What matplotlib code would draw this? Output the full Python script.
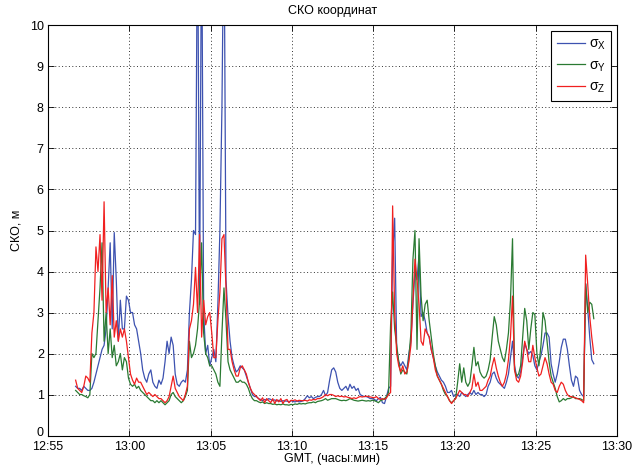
import numpy as np
import pandas as pd
import matplotlib
matplotlib.use('Agg')
import matplotlib.pyplot as plt
import matplotlib.dates as mdates

# sampling: one point every 7.5 s starting 12:56:42
start_time = '2000-01-01 12:56:42'
n_points = 256

# rows of 8 points = 1 minute each
sigma_x = [
    1.2, 1.15, 1.15, 1.1, 1.2, 1.15, 1.1, 1.1,
    1.15, 1.3, 1.5, 1.7, 1.9, 2.1, 2.2, 2.6,
    3.6, 4.7, 2.6, 4.95, 3.8, 2.3, 3.3, 2.6,
    2.6, 3.4, 3.3, 3.0, 3.0, 2.7, 2.6, 2.3,
    2.0, 1.6, 1.4, 1.3, 1.5, 1.6, 1.3, 1.2,
    1.15, 1.35, 1.25, 1.4, 1.8, 2.3, 2.0, 2.4,
    2.2, 1.5, 1.25, 1.2, 1.3, 1.35, 1.3, 1.6,
    3.0, 3.8, 5.0, 4.9, 13.0, 3.2, 13.0, 3.0,
    2.0, 2.2, 1.7, 1.9, 2.1, 1.8, 3.2, 5.0,
    8.0, 13.0, 3.8, 2.9, 2.3, 1.9, 1.7, 1.55,
    1.6, 1.7, 1.65, 1.6, 1.45, 1.3, 1.15, 1.0,
    0.95, 0.95, 0.9, 0.88, 0.85, 0.88, 0.86, 0.9,
    0.88, 0.85, 0.87, 0.84, 0.86, 0.83, 0.85, 0.84,
    0.84, 0.82, 0.85, 0.83, 0.82, 0.84, 0.82, 0.83,
    0.85, 0.9, 0.97, 0.92, 0.95, 0.9, 0.93, 0.95,
    0.95, 1.0, 1.1, 0.97, 1.05, 1.35, 1.6, 1.65,
    1.55, 1.3, 1.15, 1.1, 1.15, 1.2, 1.1, 1.25,
    1.15, 1.2, 1.1, 1.15, 1.0, 0.97, 0.95, 0.95,
    0.93, 0.9, 0.9, 0.88, 0.85, 0.9, 0.93, 0.8,
    0.78, 0.95, 1.15, 1.2, 4.4, 5.3, 2.1, 1.8,
    1.7, 1.8, 1.7, 1.6, 2.0, 2.3, 3.2, 4.0,
    3.8, 4.4, 2.9, 3.0, 2.8, 2.5, 2.4, 2.1,
    1.9, 1.7, 1.55, 1.45, 1.35, 1.3, 1.2, 1.05,
    1.05, 1.1, 0.95, 1.0, 1.0, 0.95, 1.05, 1.0,
    0.95, 1.0, 1.05, 1.0, 1.1, 1.0, 1.05, 1.0,
    1.0, 0.95, 1.0, 1.2, 1.3, 1.5, 1.55, 1.4,
    1.3, 1.25, 1.2, 1.15, 1.3, 1.5, 1.9, 2.3,
    1.7, 1.45, 1.4, 1.55, 1.9, 2.25, 2.1, 2.0,
    2.05, 1.95, 1.7, 1.6, 1.8, 1.95, 2.2, 2.5,
    2.5, 2.4, 1.75, 1.5, 1.3, 1.5, 1.8, 2.15,
    2.35, 2.35, 2.1, 1.7, 1.35, 1.2, 1.45, 1.4,
    1.1, 1.0, 0.95, 3.7, 3.1, 2.4, 1.85, 1.75,
]

sigma_y = [
    1.1, 1.05, 1.0, 1.0, 0.97, 0.95, 0.92, 1.0,
    2.0, 1.9, 2.0, 2.8, 3.6, 4.7, 2.3, 3.0,
    2.0, 2.6, 1.9, 2.2, 1.7, 1.8, 2.0, 1.6,
    1.9, 1.8, 1.4, 1.25, 1.2, 1.25, 1.15, 1.2,
    1.1, 1.05, 1.0, 0.95, 0.9, 0.85, 0.85, 0.8,
    0.85, 0.8, 0.85, 0.8, 0.75, 0.8, 0.85, 1.0,
    1.05, 0.95, 0.9, 0.85, 0.8, 0.85, 0.95, 1.1,
    2.3, 1.9, 2.0, 2.2, 2.6, 3.3, 4.7, 2.5,
    2.0, 1.9, 1.7, 1.7, 1.6, 1.5, 1.3, 1.2,
    2.5, 3.6, 2.8, 1.8, 1.6, 1.5, 1.4, 1.3,
    1.3, 1.35, 1.3, 1.3, 1.25, 1.15, 1.0, 0.9,
    0.85, 0.85, 0.82, 0.8, 0.82, 0.78, 0.8, 0.78,
    0.78, 0.76, 0.77, 0.75, 0.76, 0.75, 0.77, 0.75,
    0.75, 0.74, 0.76, 0.75, 0.77, 0.76, 0.78, 0.77,
    0.78, 0.77, 0.79, 0.8, 0.8, 0.82, 0.8, 0.83,
    0.84, 0.85, 0.87, 0.9, 0.86, 0.88, 0.9, 0.9,
    0.9, 0.88, 0.86, 0.85, 0.86, 0.85, 0.87, 0.9,
    0.88, 0.86, 0.85, 0.84, 0.85, 0.86, 0.85, 0.84,
    0.85, 0.84, 0.86, 0.85, 0.83, 0.8, 0.85, 0.87,
    0.9, 0.95, 1.05, 2.7, 3.5, 2.6, 2.2, 1.8,
    1.5, 1.6, 1.55, 1.5, 1.9, 2.5, 4.3, 5.0,
    2.1, 4.8, 3.4, 2.8, 3.2, 3.3, 2.8, 2.4,
    2.0, 1.7, 1.45, 1.35, 1.25, 1.1, 1.0, 0.95,
    0.85, 0.8, 0.85, 0.9, 1.3, 1.75, 1.3, 1.65,
    1.3, 1.2, 1.3, 1.7, 2.15, 1.7, 1.8, 1.55,
    1.45, 1.4, 1.45, 1.6, 1.85, 2.4, 2.9, 2.7,
    2.3, 2.1, 1.9, 1.8, 2.1, 2.5, 3.3, 4.8,
    1.6, 1.45, 1.5, 1.7, 2.4, 3.1, 2.8, 2.1,
    2.6, 3.0, 2.95, 2.0, 1.7, 2.2, 3.0, 2.8,
    2.3, 1.8, 1.45, 1.3, 1.15, 0.95, 0.82, 0.85,
    0.9, 0.86, 0.9, 0.9, 0.92, 0.95, 0.9, 0.9,
    0.9, 0.88, 0.85, 3.7, 3.0, 3.25, 3.2, 2.85,
]

sigma_z = [
    1.35, 1.15, 1.1, 1.05, 1.2, 1.45, 1.4, 1.3,
    2.5, 3.0, 4.6, 4.0, 4.9, 3.3, 5.7, 3.0,
    3.6, 2.7, 3.9, 2.4, 2.8, 2.3, 2.6, 2.4,
    2.6, 2.3, 1.9, 1.5, 1.35, 1.25, 1.4, 1.3,
    1.3, 1.2, 1.1, 1.0, 1.05, 1.0, 0.95, 1.0,
    0.95, 0.9, 0.9, 0.85, 0.8, 0.85, 0.95, 1.2,
    1.45, 1.15, 1.05, 0.95, 0.9, 0.85, 1.0, 1.2,
    2.6, 2.8, 3.2, 4.1, 3.0, 4.9, 2.4, 3.3,
    2.7, 2.9, 3.0, 2.5, 1.9, 1.9, 2.8, 3.5,
    4.8, 4.9, 3.6, 2.1, 2.1, 1.8, 1.6, 1.45,
    1.45, 1.65, 1.7, 1.6, 1.5, 1.3, 1.15, 1.05,
    1.0, 0.95, 0.9, 0.85, 0.92, 0.8, 0.9, 0.85,
    0.8, 0.9, 0.78, 0.88, 0.82, 0.9, 0.78, 0.86,
    0.88, 0.8, 0.86, 0.85, 0.87, 0.84, 0.86, 0.85,
    0.85, 0.86, 0.84, 0.87, 0.86, 0.88, 0.87, 0.9,
    0.9, 0.92, 0.95, 1.0, 0.97, 1.0, 1.0, 0.98,
    0.95, 0.97, 0.95, 0.96, 0.94, 0.95, 0.93, 0.92,
    0.9, 0.92, 0.9, 0.93, 0.95, 0.94, 0.95, 0.96,
    0.95, 0.94, 0.93, 0.92, 0.95, 0.9, 0.88, 0.9,
    0.88, 0.92, 1.0, 1.05, 5.6, 3.0, 2.0, 1.7,
    1.55, 1.7, 1.5, 1.55, 1.8, 2.2, 3.3, 4.3,
    3.8, 3.2, 2.3, 2.2, 2.6, 2.5, 2.4, 2.1,
    1.9, 1.6, 1.45, 1.35, 1.25, 1.15, 1.05, 0.95,
    0.85, 0.78, 0.85, 0.9, 1.0, 1.1, 1.05, 1.0,
    1.0, 0.95, 1.05, 1.15, 1.5, 1.2, 1.3, 1.1,
    1.1, 1.15, 1.2, 1.35, 1.45, 1.7, 1.9, 1.65,
    1.45, 1.3, 1.2, 1.3, 1.5, 1.85, 2.4, 3.4,
    1.6, 1.35, 1.3, 1.45, 1.8, 2.3, 2.1, 1.8,
    1.8, 2.2, 1.9, 1.65, 1.45, 1.5, 1.7, 1.9,
    1.75, 1.5, 1.3, 1.25, 1.1, 1.05, 1.2, 1.3,
    1.25, 1.1, 1.0, 0.95, 0.95, 0.93, 0.92, 0.9,
    0.88, 0.85, 0.8, 4.4, 3.7, 2.9, 2.4, 2.0,
]

times = pd.date_range(start_time, periods=n_points, freq='7500ms')

plt.rcParams['font.family'] = ['Liberation Sans', 'DejaVu Sans']
plt.rcParams['mathtext.fontset'] = 'custom'
plt.rcParams['mathtext.rm'] = 'Liberation Sans'
plt.rcParams['mathtext.it'] = 'Liberation Sans'

fig = plt.figure(figsize=(6.4, 4.65), dpi=100)
ax = fig.add_axes([0.075, 0.0634, 0.889, 0.8818])

ax.plot(times, sigma_x, color='#3d52b0', lw=0.9, label=r'$\sigma_{\mathrm{X}}$')
ax.plot(times, sigma_y, color='#2a7a32', lw=0.9, label=r'$\sigma_{\mathrm{Y}}$')
ax.plot(times, sigma_z, color='#f02020', lw=0.9, label=r'$\sigma_{\mathrm{Z}}$')

ax.set_xlim(pd.Timestamp('2000-01-01 12:55'), pd.Timestamp('2000-01-01 13:30'))
ax.set_ylim(0, 10)
ax.set_yticks(range(0, 11))
ax.xaxis.set_major_locator(mdates.MinuteLocator(byminute=range(0, 60, 5)))
ax.xaxis.set_major_formatter(mdates.DateFormatter('%H:%M'))

ax.tick_params(direction='in', top=True, right=True, length=4, width=0.6, labelsize=9)
ax.tick_params(axis='x', pad=4)
ax.tick_params(axis='y', pad=3)
ax.grid(True, linestyle=(0, (1, 2.5)), color='#333333', linewidth=0.7)
for s in ax.spines.values():
    s.set_linewidth(0.8)

# the "0" label sits just above the x axis line, as in MATLAB output
fig.canvas.draw()
ax.get_yticklabels()[0].set_verticalalignment('baseline')

ax.set_title('СКО координат', fontsize=9, pad=8)
ax.set_xlabel('GMT, (часы:мин)', fontsize=9, labelpad=0)
ax.set_ylabel('СКО, м', fontsize=9, labelpad=5)

leg = ax.legend(loc='upper right', fontsize=10, fancybox=False, framealpha=1,
                edgecolor='black', handlelength=2.0, labelspacing=0.45,
                borderaxespad=0.4, handletextpad=0.3, borderpad=0.4)
leg.get_frame().set_linewidth(0.8)

plt.savefig('out.png', dpi=100)
